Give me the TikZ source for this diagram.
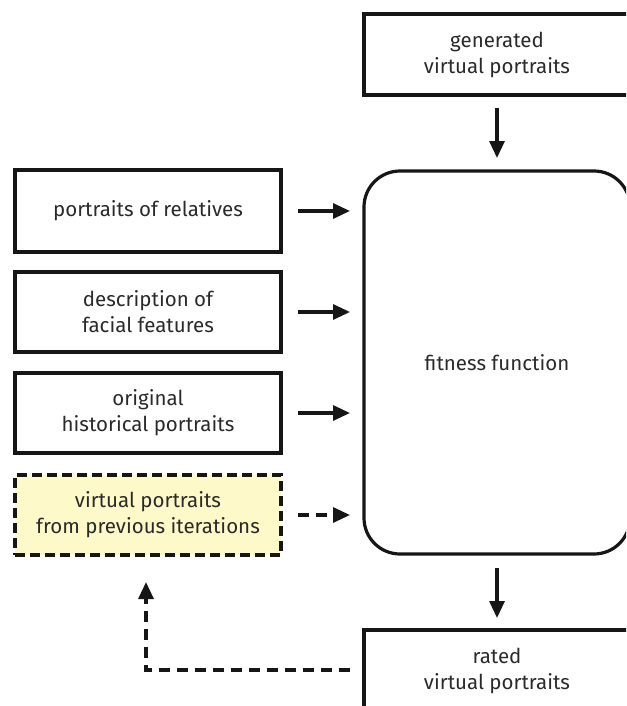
\documentclass[tikz,border=0pt]{standalone}
\usepackage{fontspec}
\setmainfont{Fira Sans}
\usetikzlibrary{arrows.meta}
\definecolor{lineC}{HTML}{161616}
\definecolor{textC}{HTML}{2A2A2A}
\definecolor{yellowC}{HTML}{FEF9C8}
\tikzset{
  box/.style={draw=lineC, line width=3.2pt, rectangle, align=center, inner sep=0pt,
    font=\fontsize{20.5}{26}\selectfont, text=textC},
  arr/.style={draw=lineC, line width=3.2pt, -{Triangle[length=17pt,width=15pt]}},
  dashbox/.style={dash pattern=on 10pt off 5pt},
  dashline/.style={dash pattern=on 11pt off 7pt},
}
\begin{document}
\begin{tikzpicture}[x=1pt,y=-1pt]
\useasboundingbox (0,0) rectangle (626,706);
\clip (0,0) rectangle (626,706);
% left boxes
\node[box, minimum width=266pt, minimum height=82pt] (rel) at (148,211) {portraits of relatives};
\node[box, minimum width=266pt, minimum height=80pt] (desc) at (148,312) {description of\\facial features};
\node[box, minimum width=266pt, minimum height=80pt] (orig) at (148,413) {original\\historical portraits};
\node[box, fill=yellowC, dashbox, minimum width=266pt, minimum height=80pt] (prev) at (148,515) {virtual portraits\\from previous iterations};
% right boxes
\node[box, minimum width=266pt, minimum height=81pt] (gen) at (497,54.5) {generated\\virtual portraits};
\node[box, rounded corners=36pt, minimum width=266pt, minimum height=383pt] (fit) at (497,362.5) {fitness function};
\node[box, minimum width=266pt, minimum height=82pt] (rated) at (497,671) {rated\\virtual portraits};
% connector anchors
\coordinate (a1s) at (298,211); \coordinate (a1e) at (350,211);
\coordinate (a2s) at (298,312); \coordinate (a2e) at (350,312);
\coordinate (a3s) at (298,413); \coordinate (a3e) at (350,413);
\coordinate (a4s) at (298,515); \coordinate (a4e) at (350,515);
\coordinate (gs) at (497,108); \coordinate (ge) at (497,158);
\coordinate (fs) at (497,568); \coordinate (fe) at (497,618);
\coordinate (bs) at (350,670); \coordinate (bc) at (146,670); \coordinate (be) at (146,582);
\draw[arr] (a1s) -- (a1e);
\draw[arr] (a2s) -- (a2e);
\draw[arr] (a3s) -- (a3e);
\draw[arr, dashline] (a4s) -- (a4e);
\draw[arr] (gs) -- (ge);
\draw[arr] (fs) -- (fe);
\draw[arr, dashline] (bs) -- (bc) -- (be);
\end{tikzpicture}
\end{document}
